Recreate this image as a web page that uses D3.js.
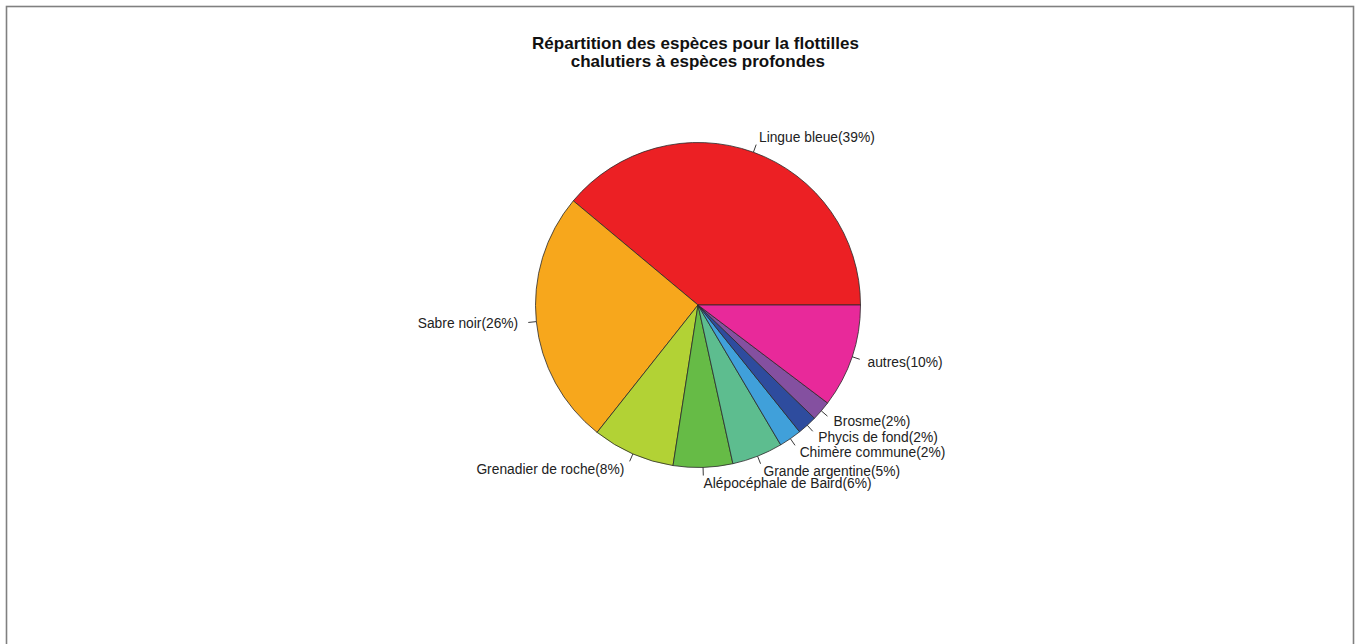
<!DOCTYPE html>
<html>
<head>
<meta charset="utf-8">
<script src="https://cdn.jsdelivr.net/npm/d3@7"></script>
<style>
  html, body { margin: 0; padding: 0; background: #fff; }
  svg { display: block; }
</style>
</head>
<body>
<script>
// Data
const categories = ["Lingue bleue", "Sabre noir", "Grenadier de roche", "Alépocéphale de Baird",
  "Grande argentine", "Chimère commune", "Phycis de fond", "Brosme", "autres"];
const values = [38.9, 25.4, 8.2, 5.9, 5.05, 2.25, 1.97, 1.97, 10.3];
const pctLabels = ["39%", "26%", "8%", "6%", "5%", "2%", "2%", "2%", "10%"];
const colors = ["#EC2024", "#F7A71C", "#B2D235", "#66BB46", "#5DBD8F", "#40A0DA", "#2E4C9E", "#8450A0", "#E8299A"];
const titleLines = ["Répartition des espèces pour la flottilles", " chalutiers à espèces profondes"];

const W = 1356, H = 644;
const cx = 698, cy = 305, r = 162.5;

const svg = d3.select("body").append("svg").attr("width", W).attr("height", H);

// frame
svg.append("rect").attr("x", 6.5).attr("y", 6.5).attr("width", 1347).attr("height", 660)
  .attr("fill", "none").attr("stroke", "#808080").attr("stroke-width", 1.6);

// title
const title = svg.append("text").attr("text-anchor", "middle")
  .attr("font-family", "Liberation Sans, Arial, sans-serif").attr("font-weight", "bold")
  .attr("font-size", 17).attr("fill", "#111");
titleLines.forEach((t, i) => {
  title.append("tspan").attr("x", 695.5).attr("y", 49 + i * 17.5).attr("xml:space", "preserve").text(t);
});

// pie: counterclockwise from 3 o'clock (R style)
const pie = d3.pie().sort(null).startAngle(Math.PI / 2).endAngle(Math.PI / 2 - 2 * Math.PI);
const arcs = pie(values);
const arc = d3.arc().innerRadius(0).outerRadius(r);

const g = svg.append("g").attr("transform", `translate(${cx},${cy})`);
g.selectAll("path.slice").data(arcs).enter().append("path")
  .attr("class", "slice")
  .attr("d", arc)
  .attr("fill", (d, i) => colors[i])
  .attr("stroke", "#2a2a2a").attr("stroke-width", 0.8).attr("stroke-linejoin", "round");

// labels
arcs.forEach((d, i) => {
  const a = (d.startAngle + d.endAngle) / 2; // d3 angle: clockwise from 12 o'clock
  const ux = Math.sin(a), uy = -Math.cos(a);
  g.append("line")
    .attr("x1", ux * r).attr("y1", uy * r)
    .attr("x2", ux * r * 1.05).attr("y2", uy * r * 1.05)
    .attr("stroke", "#222").attr("stroke-width", 0.9);
  g.append("text")
    .attr("x", ux * r * 1.1 + (ux >= 0 ? 0 : -2)).attr("y", uy * r * 1.1)
    .attr("dy", "0.35em")
    .attr("text-anchor", ux >= 0 ? "start" : "end")
    .attr("font-family", "Liberation Sans, Arial, sans-serif")
    .attr("font-size", 13.8).attr("fill", "#222")
    .text(`${categories[i]}(${pctLabels[i]})`);
});
</script>
</body>
</html>
